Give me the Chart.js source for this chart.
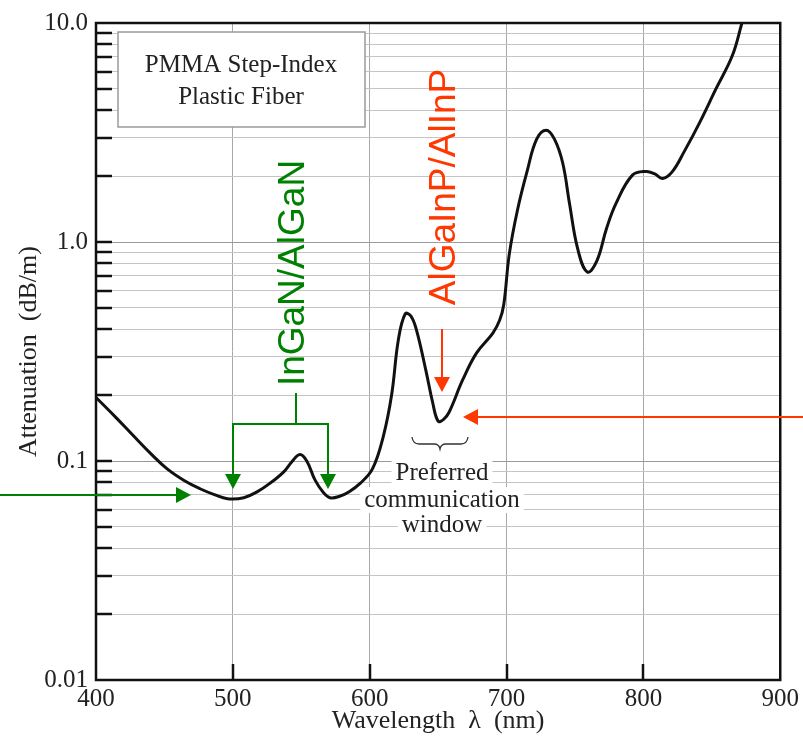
<!DOCTYPE html>
<html>
<head>
<meta charset="utf-8">
<script src="https://cdn.jsdelivr.net/npm/chart.js@4"></script>
<style>
  html, body { margin: 0; padding: 0; background: #fff; }
  canvas { display: block; }
</style>
</head>
<body>
<canvas id="fiberChart" width="803" height="749"></canvas>
<script>
// wavelength (nm) and attenuation (dB/m)
const wavelengths = [400, 415, 427, 440, 452, 465, 476, 487, 496, 508, 518, 527, 537, 543, 549, 554, 560, 566, 571, 578, 585, 593, 602, 610, 616, 621, 626, 630, 634, 641, 646, 650, 654, 658, 668, 678, 690, 695, 698, 702, 708, 715, 722, 729, 735, 741, 746, 752, 759, 766, 773, 780, 792, 802, 808, 814, 821, 830, 841, 853, 865, 872];
const attenuation = [0.195, 0.157, 0.131, 0.108, 0.092, 0.081, 0.0747, 0.070, 0.0673, 0.068, 0.0725, 0.079, 0.089, 0.099, 0.107, 0.100, 0.082, 0.072, 0.068, 0.069, 0.0724, 0.079, 0.092, 0.13, 0.20, 0.36, 0.47, 0.46, 0.40, 0.26, 0.185, 0.152, 0.155, 0.167, 0.235, 0.311, 0.384, 0.44, 0.52, 0.88, 1.4, 2.1, 2.95, 3.24, 2.95, 2.3, 1.5, 0.93, 0.73, 0.82, 1.15, 1.5, 2.02, 2.1, 2.05, 1.95, 2.09, 2.6, 3.5, 5.0, 7.1, 10.0];

const xTicks = [400, 500, 600, 700, 800, 900];
const yTicks = [0.01, 0.02, 0.03, 0.04, 0.05, 0.06, 0.07, 0.08, 0.09,
                0.1, 0.2, 0.3, 0.4, 0.5, 0.6, 0.7, 0.8, 0.9,
                1, 2, 3, 4, 5, 6, 7, 8, 9, 10];
const yLabels = { '0.01': '0.01', '0.1': '0.1', '1': '1.0', '10': '10.0' };

const serif = 'Liberation Serif';
const sans = 'Liberation Sans';
const green = 'rgb(0,128,0)';
const red = 'rgb(255,55,0)';

function isDecade(v) {
    const l = Math.log10(v);
    return Math.abs(l - Math.round(l)) < 1e-9;
}

function arrow(ctx, x1, y1, x2, y2, color) {
    // shaft then a filled head ending at (x2, y2)
    const ang = Math.atan2(y2 - y1, x2 - x1);
    const hl = 15, hw = 8;
    const bx = x2 - hl * Math.cos(ang), by = y2 - hl * Math.sin(ang);
    ctx.strokeStyle = color;
    ctx.fillStyle = color;
    ctx.lineWidth = 2;
    ctx.beginPath();
    ctx.moveTo(x1, y1);
    ctx.lineTo(bx, by);
    ctx.stroke();
    ctx.beginPath();
    ctx.moveTo(x2, y2);
    ctx.lineTo(bx + hw * Math.sin(ang), by - hw * Math.cos(ang));
    ctx.lineTo(bx - hw * Math.sin(ang), by + hw * Math.cos(ang));
    ctx.closePath();
    ctx.fill();
}

const windowLines = [['Preferred', 473], ['communication', 500], ['window', 525]];

const decorations = {
    id: 'decorations',
    beforeDatasetsDraw(chart) {
        const ctx = chart.ctx;
        ctx.save();
        ctx.fillStyle = '#fff';
        // title box covers grid
        ctx.fillRect(118, 32, 247, 95);
        ctx.font = '25px "' + serif + '"';
        windowLines.forEach(([t, y]) => {
            const w = ctx.measureText(t).width;
            ctx.fillRect(442 - w / 2 - 4, y - 13, w + 8, 26);
        });
        ctx.restore();
    },
    afterDraw(chart) {
        const ctx = chart.ctx;
        const a = chart.chartArea;
        const xs = chart.scales.x, ys = chart.scales.y;
        ctx.save();

        // inward ticks
        ctx.strokeStyle = '#111';
        ctx.lineWidth = 2.5;
        yTicks.forEach(v => {
            if (v <= 0.01 || v >= 10) return;
            const y = Math.round(ys.getPixelForValue(v));
            ctx.beginPath();
            ctx.moveTo(a.left, y);
            ctx.lineTo(a.left + 16, y);
            ctx.stroke();
        });
        xTicks.forEach(v => {
            if (v <= 400 || v >= 900) return;
            const x = Math.round(xs.getPixelForValue(v));
            ctx.beginPath();
            ctx.moveTo(x, a.bottom);
            ctx.lineTo(x, a.bottom - 16);
            ctx.stroke();
        });
        // frame
        ctx.lineWidth = 2.5;
        ctx.strokeRect(a.left, a.top, a.right - a.left, a.bottom - a.top);

        // title box
        ctx.strokeStyle = '#9a9a9a';
        ctx.lineWidth = 1.5;
        ctx.strokeRect(118, 32, 247, 95);
        ctx.fillStyle = '#222';
        ctx.font = '25px "' + serif + '"';
        ctx.textAlign = 'center';
        ctx.textBaseline = 'middle';
        ctx.fillText('PMMA Step-Index', 241, 65);
        ctx.fillText('Plastic Fiber', 241, 97);

        // preferred window
        windowLines.forEach(([t, y]) => ctx.fillText(t, 442, y));
        ctx.strokeStyle = '#333';
        ctx.lineWidth = 1.3;
        ctx.beginPath();
        ctx.moveTo(412, 437);
        ctx.quadraticCurveTo(413, 444, 419, 444);
        ctx.lineTo(434, 444);
        ctx.quadraticCurveTo(439, 444, 440, 449);
        ctx.quadraticCurveTo(441, 444, 446, 444);
        ctx.lineTo(461, 444);
        ctx.quadraticCurveTo(467, 444, 468, 437);
        ctx.stroke();

        // rotated labels
        ctx.font = '37px "' + sans + '"';
        ctx.textBaseline = 'alphabetic';
        ctx.textAlign = 'center';
        ctx.save();
        ctx.translate(304, 273);
        ctx.rotate(-Math.PI / 2);
        ctx.fillStyle = green;
        ctx.fillText('InGaN/AlGaN', 0, 0);
        ctx.restore();
        ctx.save();
        ctx.translate(455, 187);
        ctx.rotate(-Math.PI / 2);
        ctx.fillStyle = red;
        ctx.fillText('AlGaInP/AlInP', 0, 0);
        ctx.restore();

        // green bracket arrows
        ctx.strokeStyle = green;
        ctx.lineWidth = 2;
        ctx.beginPath();
        ctx.moveTo(296, 393);
        ctx.lineTo(296, 424);
        ctx.moveTo(233, 424);
        ctx.lineTo(328, 424);
        ctx.stroke();
        arrow(ctx, 233, 423, 233, 489, green);
        arrow(ctx, 328, 423, 328, 489, green);
        arrow(ctx, 0, 495, 191, 495, green);

        // red arrows
        arrow(ctx, 442, 329, 442, 392, red);
        arrow(ctx, 803, 417, 463, 417, red);

        ctx.restore();
    }
};

const ctx = document.getElementById('fiberChart').getContext('2d');

const fiberChart = new Chart(ctx, {
    type: 'line',
    data: {
        datasets: [{
            data: wavelengths.map((w, i) => ({ x: w, y: attenuation[i] })),
            borderColor: '#111',
            borderWidth: 3,
            pointRadius: 0,
            fill: false,
            tension: 0.4
        }]
    },
    options: {
        responsive: false,
        animation: false,
        layout: { padding: { top: 17, right: 22, left: 0, bottom: 0 } },
        plugins: {
            legend: { display: false },
            tooltip: { enabled: false }
        },
        scales: {
            x: {
                type: 'linear',
                min: 400,
                max: 900,
                afterBuildTicks: s => { s.ticks = xTicks.map(v => ({ value: v })); },
                afterFit: s => { s.height = 69; },
                border: { display: false },
                grid: {
                    drawTicks: false,
                    color: c => (c.tick && (c.tick.value === 400 || c.tick.value === 900)) ? 'rgba(0,0,0,0)' : '#a8a8a8',
                    lineWidth: 1
                },
                ticks: {
                    autoSkip: false,
                    maxRotation: 0,
                    padding: 4,
                    color: '#222',
                    font: { family: serif, size: 25 }
                },
                title: {
                    display: true,
                    text: 'Wavelength  λ  (nm)',
                    color: '#222',
                    font: { family: serif, size: 26 },
                    padding: { top: 0, bottom: 12 }
                }
            },
            y: {
                type: 'logarithmic',
                min: 0.01,
                max: 10,
                afterBuildTicks: s => { s.ticks = yTicks.map(v => ({ value: v })); },
                afterFit: s => { s.width = 96; },
                border: { display: false },
                grid: {
                    drawTicks: false,
                    color: c => (c.tick && isDecade(c.tick.value)) ? '#9a9a9a' : '#c4c4c4',
                    lineWidth: 1
                },
                ticks: {
                    autoSkip: false,
                    padding: 8,
                    color: '#222',
                    font: { family: serif, size: 25 },
                    callback: v => isDecade(v) ? (yLabels[String(v)] || '') : ''
                },
                title: {
                    display: true,
                    text: 'Attenuation  (dB/m)',
                    color: '#222',
                    font: { family: serif, size: 26 },
                    padding: { top: 14, bottom: 0 }
                }
            }
        }
    },
    plugins: [decorations]
});
</script>
</body>
</html>
